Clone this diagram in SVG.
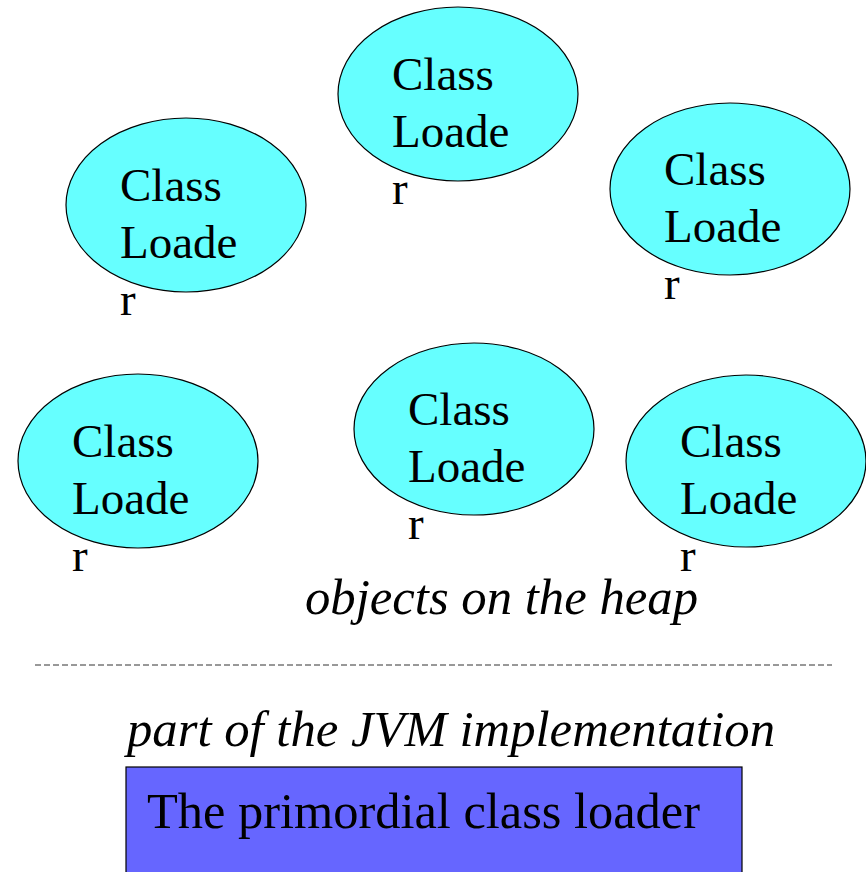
<svg xmlns="http://www.w3.org/2000/svg" width="866" height="872" viewBox="0 0 866 872">
  <style>
    .serif { font-family: "Liberation Serif", Tinos, "Times New Roman", Times, "Nimbus Roman", "DejaVu Serif", serif; fill: #000; }
    .loader ellipse { fill: #66FFFF; stroke: #000; stroke-width: 1.2; }
    .loader text { font-size: 47px; }
    .caption { font-style: italic; font-size: 50px; }
    .boxlabel { font-size: 50px; }
  </style>
  <rect width="866" height="872" fill="#fff"/>

  <!-- class loader objects living on the heap -->
  <g id="loader-top-center" class="loader serif">
    <ellipse cx="458" cy="94" rx="120" ry="87"/>
    <text x="392" y="90">Class</text>
    <text x="392" y="147">Loade</text>
    <text x="392" y="204">r</text>
  </g>
  <g id="loader-top-left" class="loader serif">
    <ellipse cx="186" cy="205" rx="120" ry="87"/>
    <text x="120" y="201">Class</text>
    <text x="120" y="258">Loade</text>
    <text x="120" y="315">r</text>
  </g>
  <g id="loader-top-right" class="loader serif">
    <ellipse cx="730" cy="189" rx="120" ry="86"/>
    <text x="664" y="185">Class</text>
    <text x="664" y="242">Loade</text>
    <text x="664" y="299">r</text>
  </g>
  <g id="loader-bottom-left" class="loader serif">
    <ellipse cx="138" cy="461" rx="120" ry="87"/>
    <text x="72" y="457">Class</text>
    <text x="72" y="514">Loade</text>
    <text x="72" y="571">r</text>
  </g>
  <g id="loader-bottom-center" class="loader serif">
    <ellipse cx="474" cy="429" rx="120" ry="86"/>
    <text x="408" y="425">Class</text>
    <text x="408" y="482">Loade</text>
    <text x="408" y="539">r</text>
  </g>
  <g id="loader-bottom-right" class="loader serif">
    <ellipse cx="746" cy="461" rx="120" ry="86"/>
    <text x="680" y="457">Class</text>
    <text x="680" y="514">Loade</text>
    <text x="680" y="571">r</text>
  </g>

  <g id="heap-caption">
    <text class="serif caption" x="305" y="614" textLength="393" lengthAdjust="spacingAndGlyphs">objects on the heap</text>
  </g>

  <!-- boundary between heap objects and the JVM itself -->
  <g id="connectors">
    <line x1="35" y1="665" x2="832" y2="665" stroke="#333" stroke-width="1" stroke-dasharray="6 3"/>
  </g>

  <g id="jvm-caption">
    <text class="serif caption" x="127" y="746" textLength="648" lengthAdjust="spacingAndGlyphs">part of the JVM implementation</text>
  </g>

  <g id="primordial-loader">
    <rect x="126" y="767" width="616" height="120" fill="#6666FF" stroke="#000" stroke-width="1.2"/>
    <text class="serif boxlabel" x="147" y="828" textLength="553" lengthAdjust="spacingAndGlyphs">The primordial class loader</text>
  </g>
</svg>
